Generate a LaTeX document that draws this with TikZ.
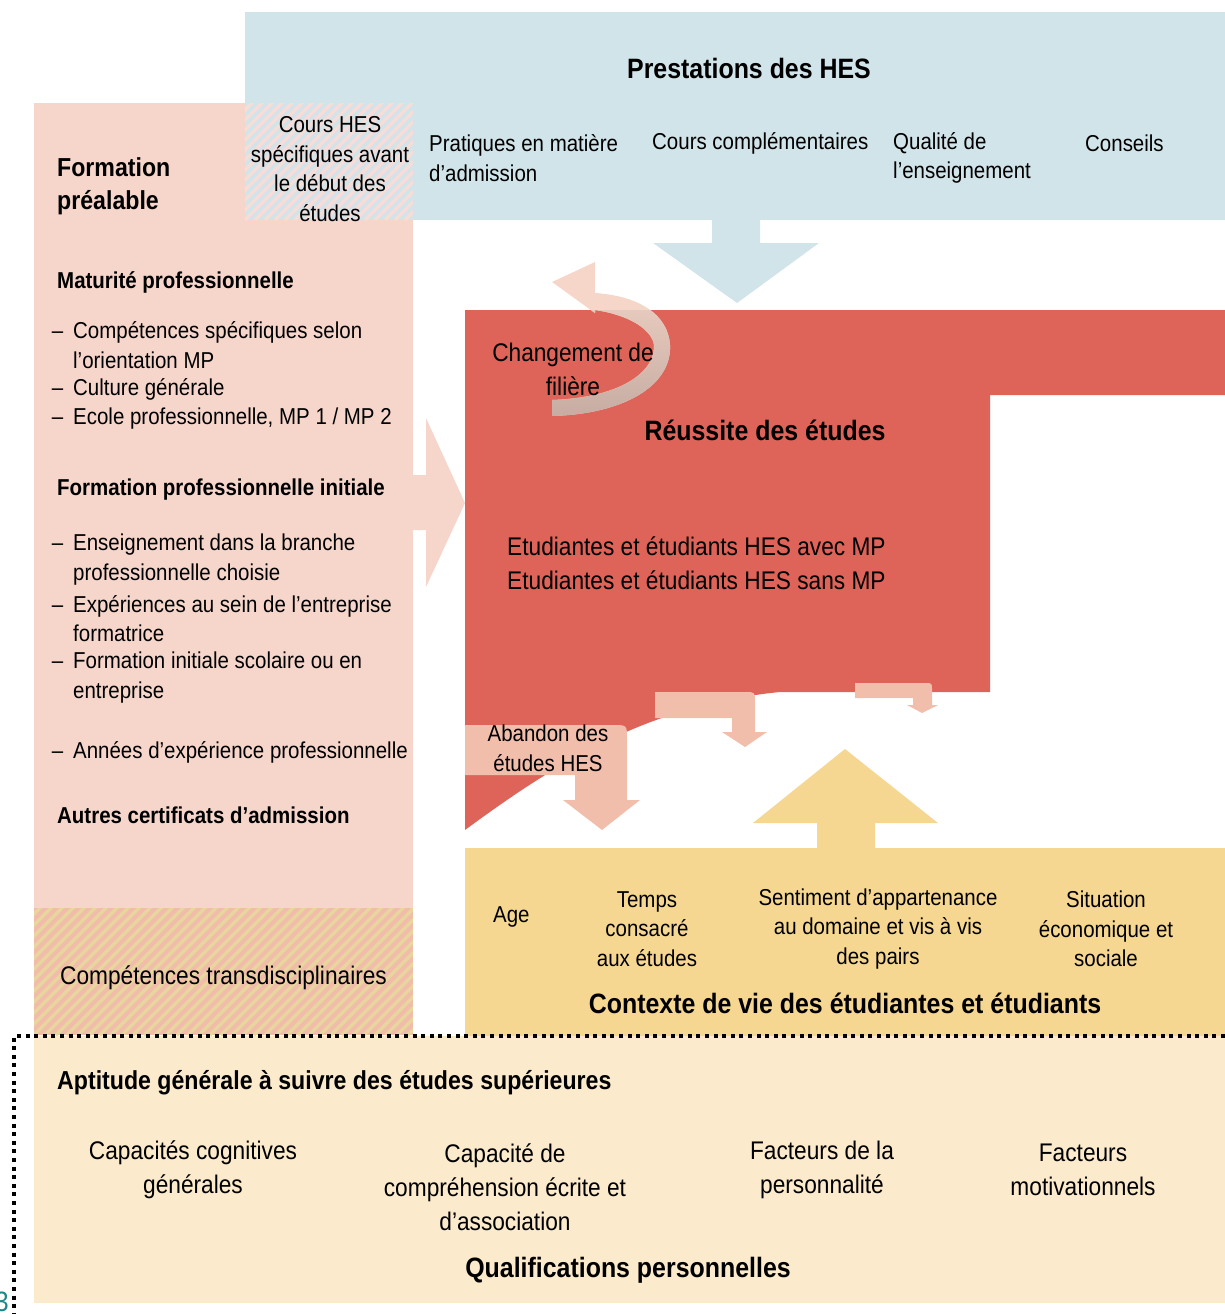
\documentclass[tikz,border=0pt]{standalone}
\usepackage{fontspec}
\setmainfont{Liberation Sans}[FakeStretch=0.89]
\usepackage{tikz}
\usetikzlibrary{calc}
\definecolor{hesblue}{RGB}{209,228,233}
\definecolor{prepink}{RGB}{246,214,203}
\definecolor{stripepink}{RGB}{245,222,216}
\definecolor{resred}{RGB}{222,99,89}
\definecolor{flowpink}{RGB}{242,190,172}
\definecolor{swpink}{RGB}{245,214,201}
\definecolor{swgrey}{RGB}{198,172,162}
\definecolor{ctxyellow}{RGB}{245,215,146}
\definecolor{qualbeige}{RGB}{251,234,203}
\definecolor{hatchsalmon}{RGB}{241,189,170}
\definecolor{hatchyellow}{RGB}{232,214,158}
\definecolor{numteal}{RGB}{30,135,140}
\newcommand{\fsmall}{\fontsize{23}{29.7}\selectfont}
\newcommand{\fmid}{\fontsize{25.5}{34}\selectfont}
\newcommand{\fhead}{\fontsize{23}{29.7}\selectfont\bfseries}
\newcommand{\fbighead}{\fontsize{26}{33}\selectfont\bfseries}
\newcommand{\ftitle}{\fontsize{28}{34}\selectfont\bfseries}
\newcommand{\dash}{\llap{–\hspace{10pt}}}
\newcommand{\swpath}{(552,416) .. controls (625,414) and (672,385) .. (670,345)
  .. controls (668,315) and (640,296) .. (595,293) -- (595,262) -- (552,282)
  -- (595,313) -- (595,310) .. controls (630,315) and (652,330) .. (654,345)
  .. controls (655,375) and (615,398) .. (552,400) -- cycle}
\tikzstyle{txt}=[inner sep=0, font=\fsmall]
\tikzstyle{txtl}=[txt, align=left, anchor=west]
\tikzstyle{txtc}=[txt, align=center]
\tikzstyle{head}=[inner sep=0, font=\fhead, anchor=west]
\tikzstyle{title}=[inner sep=0, font=\ftitle]
\tikzstyle{stripe}=[line width=3.5pt]
\tikzstyle{dotline}=[line width=4pt, dash pattern=on 4pt off 4.6pt]

\begin{document}
\begin{tikzpicture}[x=1pt, y=-1pt]
      \useasboundingbox (0,0) rectangle (1225,1314);

      % boxes
      \fill[prepink] (34,103) rectangle (413,1035);
      \fill[hesblue] (245,12) rectangle (1225,220);
      \begin{scope}
        \clip (245,103) rectangle (413,220);
        \fill[hesblue] (245,103) rectangle (413,220);
        \foreach \k in {-120,-110,...,170}{
          \draw[stripe, stripepink] ({245+\k},220) -- ++(120,-120);
        }
      \end{scope}
      \begin{scope}
        \clip (34,908) rectangle (413,1035);
        \fill[hatchsalmon] (34,908) rectangle (413,1035);
        \foreach \k in {-132,-121,...,390}{
          \draw[stripe, hatchyellow] ({34+\k},1035) -- ++(130,-130);
        }
      \end{scope}
      \fill[ctxyellow] (465,848) rectangle (1225,1036);
      \fill[qualbeige] (34,1036) rectangle (1225,1303);
      \fill[resred] (465,310) -- (1225,310) -- (1225,395) -- (990,395)
        -- (990,692) -- (780,692) .. controls (650,705) and (560,760) .. (465,830)
        -- cycle;

      % block arrows
      \fill[prepink] (413,475) -- (426,475) -- (426,418) -- (465,503)
        -- (426,587) -- (426,530) -- (413,530) -- cycle;
      \fill[hesblue] (712,220) -- (712,243) -- (653,243) -- (737,303)
        -- (819,243) -- (760,243) -- (760,220) -- cycle;
      \fill[ctxyellow] (817,848) -- (817,823) -- (753,823) -- (845,749)
        -- (938,823) -- (875,823) -- (875,848) -- cycle;
      \fill[flowpink] (465,775) -- (465,725) -- (613,725)
        .. controls (627,725) .. (627,739) -- (627,800) -- (640,800)
        -- (602,830) -- (563,800) -- (575,800) -- (575,775) -- cycle;
      \fill[flowpink] (655,718) -- (655,692) -- (745,692)
        .. controls (755,692) .. (755,702) -- (755,732) -- (767,732)
        -- (745,747) -- (722,732) -- (732,732) -- (732,718) -- cycle;
      \fill[flowpink] (855,698) -- (855,683) -- (925,683)
        .. controls (932,683) .. (932,690) -- (932,705) -- (938,705)
        -- (922,713) -- (907,705) -- (913,705) -- (913,698) -- cycle;

      % curved arrow
      \fill[swpink] \swpath;
      \begin{scope}
        \clip (465,310) rectangle (990,700);
        \shade[top color=swpink, bottom color=swgrey] \swpath;
      \end{scope}

      \draw[dotline] (1225,1036) -- (14,1036) -- (14,1314);

      % top
      \node[title] (hes) at (749,68) {Prestations des HES};
      \node[txtc] (prehes) at (330,169) {Cours HES\\spécifiques avant\\le début des\\études};
      \node[txtl] (adm) at (429,158) {Pratiques en matière\\d’admission};
      \node[txtl] (compl) at (652,143) {Cours complémentaires};
      \node[txtl] (qual) at (893,158) {Qualité de\\l’enseignement};
      \node[txtl] (cons) at (1085,143) {Conseils};

      % left
      \node[txtl, font=\fbighead] (form) at (57,186.5) {Formation\\préalable};
      \node[head] (mp) at (57,282) {Maturité professionnelle};
      \node[txtl] (mp1) at (73,345) {\dash Compétences spécifiques selon\\l’orientation MP};
      \node[txtl] (mp2) at (73,389) {\dash Culture générale};
      \node[txtl] (mp3) at (73,419) {\dash Ecole professionnelle, MP 1 / MP 2};
      \node[head] (fpi) at (57,490) {Formation professionnelle initiale};
      \node[txtl] (fpi1) at (73,559.5) {\dash Enseignement dans la branche\\professionnelle choisie};
      \node[txtl] (fpi2) at (73,618.5) {\dash Expériences au sein de l’entreprise\\formatrice};
      \node[txtl] (fpi3) at (73,677.5) {\dash Formation initiale scolaire ou en\\entreprise};
      \node[txtl] (fpi4) at (73,752) {\dash Années d’expérience professionnelle};
      \node[head] (autres) at (57,815) {Autres certificats d’admission};
      \node[txtl, font=\fmid] (trans) at (60,978) {Compétences transdisciplinaires};

      % centre
      \node[txtc, font=\fmid] (chg) at (573,369.5) {Changement de\\filière};
      \node[title] (succ) at (765,430) {Réussite des études};
      \node[txtl, font=\fmid] (stud) at (507,563) {Etudiantes et étudiants HES avec MP\\Etudiantes et étudiants HES sans MP};
      \node[txtc] (drop) at (548,748) {Abandon des\\études HES};

      % context
      \node[txtl] (age) at (493,917) {Age};
      \node[txtc] (time) at (647,929) {Temps\\consacré\\aux études};
      \node[txtc] (belong) at (878,929) {Sentiment d’appartenance\\au domaine et vis à vis\\des pairs};
      \node[txtc] (socio) at (1106,929) {Situation\\économique et\\sociale};
      \node[title] (ctx) at (845,1003) {Contexte de vie des étudiantes et étudiants};

      % bottom
      \node[txtl, font=\fbighead] (apt) at (57,1083) {Aptitude générale à suivre des études supérieures};
      \node[txtc, font=\fmid] (cog) at (193,1170) {Capacités cognitives\\générales};
      \node[txtc, font=\fmid] (read) at (505,1187) {Capacité de\\compréhension écrite et\\d’association};
      \node[txtc, font=\fmid] (pers) at (822,1170) {Facteurs de la\\personnalité};
      \node[txtc, font=\fmid] (motiv) at (1083,1170) {Facteurs\\motivationnels};
      \node[title] (qualif) at (628,1270) {Qualifications personnelles};
      \node[inner sep=0, anchor=base east, font=\fontsize{28}{28}\selectfont, text=numteal] (pagenum) at (9,1311) {3};
\end{tikzpicture}
\end{document}
